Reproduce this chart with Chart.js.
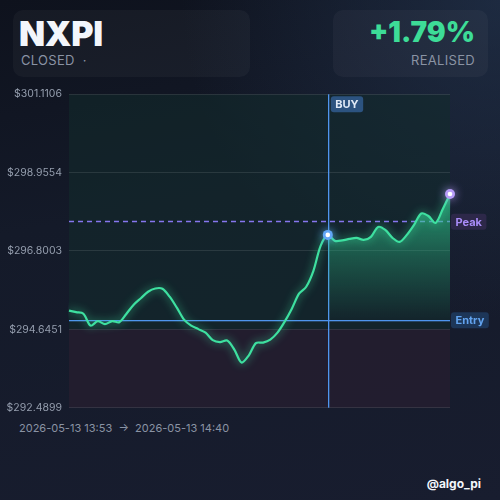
<!DOCTYPE html>
<html>
<head>
<meta charset="utf-8">
<script src="https://cdn.jsdelivr.net/npm/chart.js@4.4.1/dist/chart.umd.min.js"></script>
<style>
  html, body { margin: 0; padding: 0; width: 500px; height: 500px; overflow: hidden; }
  body {
    position: relative;
    font-family: Inter, "DejaVu Sans", sans-serif;
    background:
      radial-gradient(circle at 100% 0%, rgba(40,60,90,0.55) 0%, rgba(40,60,90,0) 45%),
      linear-gradient(170deg, #0e121d 0%, #141a29 40%, #181d2f 100%);
  }
  .card { position: absolute; top: 10px; height: 67px; border-radius: 10px; background: rgba(255,255,255,0.035); }
  .sym { position: absolute; left: 19px; top: 13px; font-size: 34px; font-weight: 900; color: #f3f6fb; letter-spacing: -0.3px; }
  .sub { position: absolute; top: 52px; font-size: 13px; color: #8a93a4; letter-spacing: 0.3px; }
  .pct { position: absolute; right: 25px; top: 15px; font-size: 28px; font-weight: 900; color: #3ddc97; }
  .foot { position: absolute; left: 19px; top: 421px; font-size: 11px; color: #8a93a4; }
  .tag { position: absolute; right: 19px; top: 476px; font-size: 12px; font-weight: 700; color: #f3f6fb; }
  canvas { position: absolute; left: 0; top: 81px; }
</style>
</head>
<body>
<div class="card" style="left:13px;width:237px"></div>
<div class="card" style="left:333px;width:155px"></div>
<div class="sym">NXPI</div>
<div class="sub" style="left:21px">CLOSED &nbsp;·</div>
<div class="pct">+1.79%</div>
<div class="sub" style="right:25px">REALISED</div>
<canvas id="priceChart" width="500" height="340"></canvas>
<div class="foot">2026-05-13 13:53 &nbsp;→&nbsp; 2026-05-13 14:40</div>
<div class="tag">@algo_pi</div>

<script>
// price path, one value per sample
const prices = [
  295.159, 295.118, 295.076, 294.747, 294.871, 294.788, 294.871, 294.843, 295.076, 295.323,
  295.502, 295.680, 295.770, 295.762, 295.543, 295.241, 294.912, 294.747, 294.651, 294.555,
  294.350, 294.295, 294.336, 294.089, 293.732, 293.924, 294.267, 294.281, 294.363, 294.555,
  294.857, 295.214, 295.625, 295.817, 296.256, 296.941, 297.243, 297.079, 297.092, 297.133,
  297.161, 297.106, 297.188, 297.463, 297.380, 297.161, 297.051, 297.243, 297.517, 297.833,
  297.764, 297.572, 297.956, 298.368
];
const labels = prices.map((_, i) => i);
const yTicks = [292.4899, 294.6451, 296.8003, 298.9554, 301.1106];
const entryPrice = 294.912;
const peakPrice = 297.619;
const bandSplit = 294.6451;
const buyIndex = 36;
const lastIndex = prices.length - 1;

const fillData = prices.map((v, i) => (i >= buyIndex ? v : null));

function roundBox(ctx, x, y, w, h, r) {
  ctx.beginPath();
  ctx.moveTo(x + r, y);
  ctx.arcTo(x + w, y, x + w, y + h, r);
  ctx.arcTo(x + w, y + h, x, y + h, r);
  ctx.arcTo(x, y + h, x, y, r);
  ctx.arcTo(x, y, x + w, y, r);
  ctx.closePath();
}

function tagLabel(ctx, text, x, yMid, bg, fg) {
  ctx.font = '700 11px Inter';
  const w = ctx.measureText(text).width + 9;
  roundBox(ctx, x, yMid - 8, w, 16, 3);
  ctx.fillStyle = bg;
  ctx.fill();
  ctx.fillStyle = fg;
  ctx.textBaseline = 'middle';
  ctx.textAlign = 'left';
  ctx.fillText(text, x + 4.5, yMid + 0.5);
}

function marker(ctx, x, y, color, glow) {
  ctx.save();
  ctx.shadowColor = glow;
  ctx.shadowBlur = 10;
  ctx.beginPath();
  ctx.arc(x, y, 5, 0, Math.PI * 2);
  ctx.fillStyle = color;
  ctx.fill();
  ctx.restore();
  ctx.beginPath();
  ctx.arc(x, y, 2.3, 0, Math.PI * 2);
  ctx.fillStyle = '#ffffff';
  ctx.fill();
}

const decor = {
  id: 'decor',
  beforeDraw(chart) {
    const { ctx, chartArea: a, scales: { y } } = chart;
    const split = y.getPixelForValue(bandSplit);
    ctx.save();
    ctx.fillStyle = 'rgba(18,44,44,0.55)';
    ctx.fillRect(a.left, a.top, a.right - a.left, split - a.top);
    ctx.fillStyle = 'rgba(38,30,48,0.8)';
    ctx.fillRect(a.left, split, a.right - a.left, a.bottom - split);
    ctx.restore();
  },
  beforeDatasetsDraw(chart) {
    const { ctx, chartArea: a, scales: { x, y } } = chart;
    ctx.save();
    // entry
    const ey = Math.round(y.getPixelForValue(entryPrice));
    ctx.fillStyle = '#4f95ee';
    ctx.fillRect(a.left, ey, a.right - a.left, 1.3);
    // peak
    const py = Math.round(y.getPixelForValue(peakPrice)) + 0.5;
    ctx.strokeStyle = '#8676ee';
    ctx.lineWidth = 1.3;
    ctx.setLineDash([5, 4]);
    ctx.beginPath(); ctx.moveTo(a.left, py); ctx.lineTo(a.right, py); ctx.stroke();
    ctx.setLineDash([]);
    // buy
    const bx = Math.round(x.getPixelForValue(buyIndex));
    ctx.fillStyle = '#4f95ee';
    ctx.fillRect(bx, a.top, 1.3, a.bottom - a.top);
    ctx.restore();
  },
  beforeDatasetDraw(chart, args) {
    if (args.index === 0) {
      chart.ctx.save();
      chart.ctx.shadowColor = 'rgba(61,230,160,0.8)';
      chart.ctx.shadowBlur = 9;
    }
  },
  afterDatasetDraw(chart, args) {
    if (args.index === 0) chart.ctx.restore();
  },
  afterDatasetsDraw(chart) {
    const { ctx, chartArea: a, scales: { x, y } } = chart;
    const pts = chart.getDatasetMeta(0).data;
    marker(ctx, pts[buyIndex].x, pts[buyIndex].y, '#62a6f7', 'rgba(98,166,247,0.9)');
    marker(ctx, pts[lastIndex].x, pts[lastIndex].y, '#b79cf8', 'rgba(183,156,248,0.9)');
    ctx.save();
    const bx = x.getPixelForValue(buyIndex);
    tagLabel(ctx, 'BUY', bx + 3, a.top + 10, '#2c5380', '#dfe9f6');
    tagLabel(ctx, 'Peak', a.right + 1, y.getPixelForValue(peakPrice) + 0.5, '#2d2849', '#a98cf8');
    tagLabel(ctx, 'Entry', a.right + 1, y.getPixelForValue(entryPrice) + 0.5, '#1d3658', '#62a3ef');
    ctx.restore();
  }
};

const ctx = document.getElementById('priceChart').getContext('2d');
new Chart(ctx, {
  type: 'line',
  data: {
    labels,
    datasets: [
      {
        data: prices,
        borderColor: '#3ee0a0',
        borderWidth: 2.2,
        tension: 0.3,
        pointRadius: 0,
        fill: false
      },
      {
        data: fillData,
        borderWidth: 0,
        tension: 0.3,
        pointRadius: 0,
        spanGaps: false,
        fill: { value: entryPrice },
        backgroundColor(c) {
          const { chart } = c;
          const a = chart.chartArea;
          if (!a) return 'rgba(52,211,153,0.3)';
          const y = chart.scales.y;
          const g = chart.ctx.createLinearGradient(0, y.getPixelForValue(Math.max(...prices)), 0, y.getPixelForValue(entryPrice));
          g.addColorStop(0, 'rgba(46,200,140,0.7)');
          g.addColorStop(0.5, 'rgba(46,200,140,0.3)');
          g.addColorStop(1, 'rgba(46,200,140,0)');
          return g;
        }
      }
    ]
  },
  options: {
    responsive: false,
    animation: false,
    devicePixelRatio: 1,
    layout: { padding: { top: 0, bottom: 0, left: 0, right: 50 } },
    plugins: { legend: { display: false }, tooltip: { enabled: false } },
    scales: {
      x: { display: false, offset: false },
      y: {
        min: yTicks[0],
        max: yTicks[yTicks.length - 1],
        afterBuildTicks(s) { s.ticks = yTicks.map(v => ({ value: v })); },
        afterFit(s) { s.width = 69; },
        border: { display: false },
        grid: { color: 'rgba(255,255,255,0.1)', drawTicks: false },
        ticks: {
          padding: 7,
          color: '#959eae',
          font: { family: 'Inter', size: 10.5 },
          callback: v => '$' + Number(v).toFixed(4)
        }
      }
    }
  },
  plugins: [decor]
});
</script>
</body>
</html>
